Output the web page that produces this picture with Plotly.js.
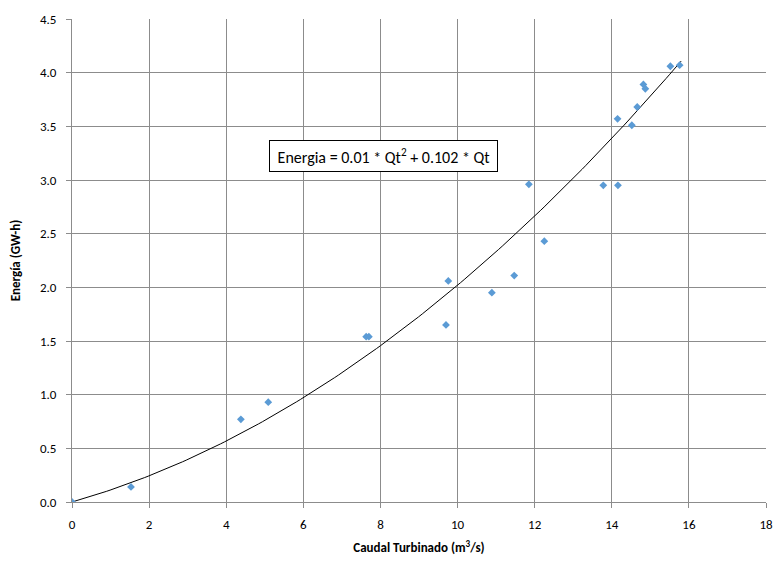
<!DOCTYPE html>
<html>
<head>
<meta charset="utf-8">
<script src="https://cdn.plot.ly/plotly-3.0.1.min.js"></script>
<style>html,body{margin:0;padding:0;background:#fff;}#chart{width:775px;height:565px;}</style>
</head>
<body>
<div id="chart"></div>
<script>
// Observed data: Caudal Turbinado (m3/s) vs Energía (GW-h)
const caudal = [0, 1.53, 4.38, 5.09, 7.63, 7.70, 9.70, 9.76, 10.89, 11.47, 11.85, 12.25, 13.78, 14.16, 14.15, 14.52, 14.66, 14.82, 14.87, 15.52, 15.76];
const energia = [0, 0.14, 0.77, 0.93, 1.54, 1.54, 1.65, 2.06, 1.95, 2.11, 2.96, 2.43, 2.95, 2.95, 3.57, 3.51, 3.68, 3.89, 3.85, 4.06, 4.07];

// Trendline coefficients (as shown in the chart's equation)
const coefA = 0.01, coefB = 0.102;
const trendMax = 15.8;

const xTicks = [0, 2, 4, 6, 8, 10, 12, 14, 16, 18];
const yTicks = [0, 0.5, 1, 1.5, 2, 2.5, 3, 3.5, 4, 4.5];

const tx = [], ty = [];
for (let i = 0; i <= 160; i++) {
  const q = trendMax * i / 160;
  tx.push(q);
  ty.push(coefA * q * q + coefB * q);
}

const font = "Carlito, Calibri, 'Open Sans', Lato, sans-serif";

const traces = [
  {x: tx, y: ty, mode: 'lines', type: 'scatter', line: {color: '#000', width: 1}, hoverinfo: 'skip', showlegend: false},
  {x: caudal, y: energia, mode: 'markers', type: 'scatter', marker: {symbol: 'diamond', size: 6, color: '#5B9BD5'}, showlegend: false}
];

const layout = {
  width: 775, height: 565,
  margin: {l: 72, r: 9, t: 19, b: 63},
  paper_bgcolor: '#fff', plot_bgcolor: '#fff',
  font: {family: font, size: 13, color: '#000'},
  xaxis: {
    range: [0, 18], tickvals: xTicks, ticktext: xTicks.map(String),
    showgrid: true, gridcolor: '#8c8c8c', gridwidth: 1,
    zeroline: false, showline: true, linecolor: '#8c8c8c', linewidth: 1,
    ticks: 'outside', ticklen: 5, tickcolor: '#8c8c8c',
    ticklabelstandoff: 5,
    tickfont: {family: font, size: 13},
    title: {text: '<b>Caudal Turbinado (m<sup>3</sup>/s)</b>', font: {family: font, size: 13}, standoff: 12}
  },
  yaxis: {
    range: [0, 4.5], tickvals: yTicks, ticktext: yTicks.map(v => v.toFixed(1)),
    showgrid: true, gridcolor: '#8c8c8c', gridwidth: 1,
    zeroline: false, showline: true, linecolor: '#8c8c8c', linewidth: 1,
    ticks: 'outside', ticklen: 5, tickcolor: '#8c8c8c',
    ticklabelstandoff: 7,
    tickfont: {family: font, size: 13},
    title: {text: '<b>Energía (GW-h)</b>', font: {family: font, size: 13}, standoff: 16}
  },
  annotations: [{
    x: 8.07, y: 3.22, xref: 'x', yref: 'y',
    text: '&nbsp;Energia = 0.01 * Qt<sup>2</sup> + 0.102 * Qt&nbsp;',
    showarrow: false, font: {family: font, size: 16, color: '#000'},
    bgcolor: '#fff', bordercolor: '#000', borderwidth: 1, borderpad: 4
  }]
};

Plotly.newPlot('chart', traces, layout, {displayModeBar: false, staticPlot: true});
</script>
</body>
</html>
